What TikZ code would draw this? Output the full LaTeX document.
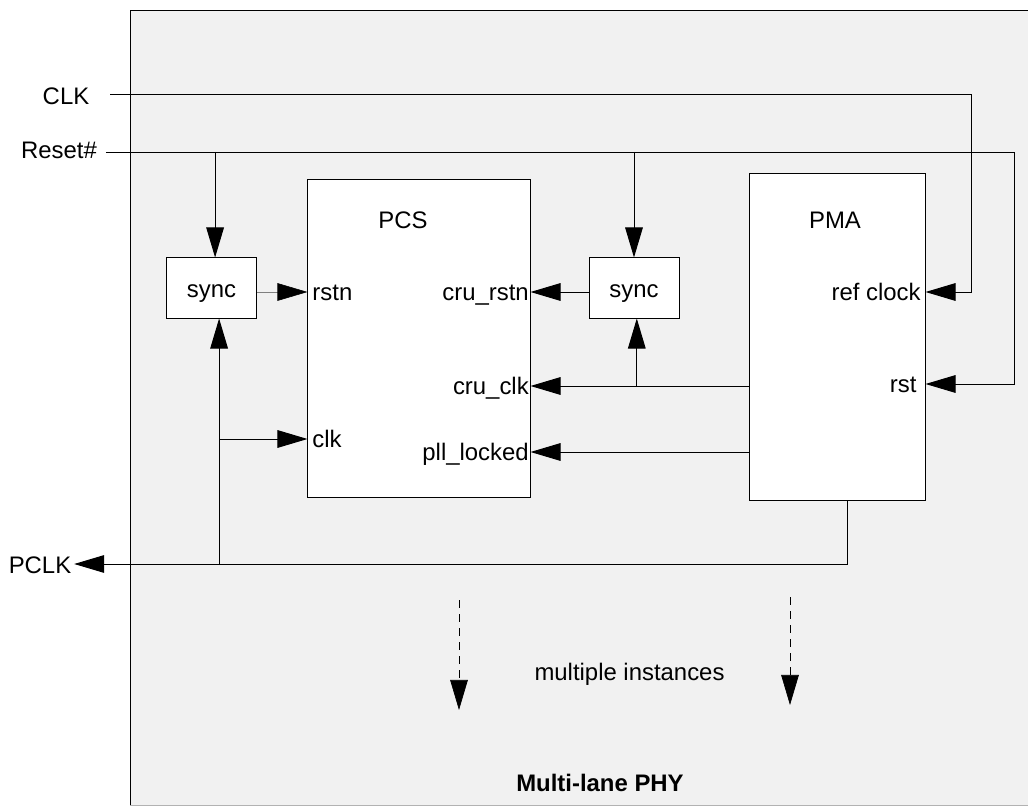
\documentclass[tikz,border=0pt]{standalone}
\usepackage{fontspec}
\setmainfont{Liberation Sans}
\usetikzlibrary{arrows.meta,positioning}

\definecolor{phygray}{HTML}{F1F1F1}

\newcommand*{\phyleft}{130}
\newcommand*{\phytop}{10}
\newcommand*{\phyright}{1028}
\newcommand*{\phybottom}{805}

\begin{document}
\begin{tikzpicture}
[
	x=0.025cm, y=-0.025cm,
	font=\fontsize{17}{20}\selectfont,
	block/.style={draw,fill=white,line width=0.7pt,inner sep=0pt},
	syncbox/.style={block,minimum width=2.25cm,minimum height=1.5cm,text height=0.45cm,text depth=0pt},
	portw/.style={anchor=base west,yshift=-0.22cm},
	porte/.style={anchor=base east,yshift=-0.22cm},
	sig/.style={line width=0.7pt},
	thinsig/.style={line width=0.4pt,gray},
	tip/.style={-{Triangle[length=0.75cm,width=0.44cm,color=black]}},
	dashtip/.style={-{Triangle[length=0.75cm,width=0.44cm]},dash pattern=on 0.2cm off 0.15cm,line width=0.5pt}
]

	\useasboundingbox (0,0) rectangle (1028,807);

	% phy background
	\fill[phygray] (\phyleft,\phytop) rectangle (\phyright,\phybottom);
	\draw[sig] (\phyright,\phytop) -- (\phyleft,\phytop) -- (\phyleft,\phybottom);
	\draw[gray!60,line width=0.4pt] (\phyleft,\phybottom) -- (\phyright,\phybottom);

	% blocks
	\node[block,minimum width=5.55cm,minimum height=7.95cm] (pcs) at (419,338.5) {};
	\node[block,minimum width=4.375cm,minimum height=8.15cm] (pma) at (837.5,337) {};
	\node[syncbox] (syncl) at (211.5,288) {sync};
	\node[syncbox] (syncr) at (634,288) {sync};

	\node[anchor=base] at (403,229) (pcsname) {PCS};
	\node[anchor=base] at (835,229) (pmaname) {PMA};

	% ports
	\coordinate (rstnport) at (pcs.west |- 0,292);
	\coordinate (clkportpt) at (pcs.west |- 0,439);
	\coordinate (crurstnport) at (pcs.east |- 0,292);
	\coordinate (cruclkport) at (pcs.east |- 0,386);
	\coordinate (pllport) at (pcs.east |- 0,452);
	\coordinate (refport) at (pma.east |- 0,292);
	\coordinate (rstport) at (pma.east |- 0,384);

	\node[portw] at (rstnport) (rstn) {rstn};
	\node[portw] at (clkportpt) (clkport) {clk};
	\node[porte,xshift=0.08cm] at (crurstnport) (crurstn) {cru\_rstn};
	\node[porte,xshift=0.08cm] at (cruclkport) (cruclk) {cru\_clk};
	\node[porte,xshift=0.08cm] at (pllport) (plllocked) {pll\_locked};
	\node[porte] at (refport) (refclk) {ref clock};
	\node[porte,xshift=-0.1cm] at (rstport) (rst) {rst};

	% external signals
	\node[anchor=base] at (66,105) (clkin) {CLK};
	\node[anchor=base] at (59,159) (resetin) {Reset\#};
	\node[anchor=base] at (40,573) (pclkout) {PCLK};

	% clock and reset in
	\draw[sig,tip] ([xshift=0.4cm]clkin.east |- 0,94) -| (971,292) -- (refport);
	\draw[sig,tip] ([xshift=0.1cm]resetin.east |- 0,152) -| (1014,384) -- (rstport);
	\draw[sig,tip] ([xshift=0.09cm]syncl.north |- 0,152) -- ([xshift=0.09cm]syncl.north);
	\draw[sig,tip] (syncr.north |- 0,152) -- (syncr.north);

	% pcs inputs
	\draw[thinsig,tip] (syncl.east |- rstnport) -- (rstnport);
	\draw[sig,tip] (syncr.west |- crurstnport) -- (crurstnport);
	\draw[sig,tip] (pma.west |- cruclkport) -- (cruclkport);
	\draw[sig,tip] ([xshift=0.07cm]syncr.south |- cruclkport) -- ([xshift=0.07cm]syncr.south);
	\draw[sig,tip] (pma.west |- pllport) -- (pllport);
	\draw[sig,tip] ([xshift=0.19cm]syncl.south |- clkportpt) -- (clkportpt);

	% pclk out
	\draw[sig,tip] ([xshift=0.24cm]pma.south) |- ([xshift=-0.05cm]pclkout.east |- 0,564);
	\draw[sig,tip] ([xshift=0.19cm]syncl.south |- 0,564) -- ([xshift=0.19cm]syncl.south);

	% instances
	\draw[dashtip] (459,600) -- (459,710);
	\draw[dashtip] (790,597) -- (790,705);
	\node[anchor=base] at (629.5,680) (instances) {multiple instances};
	\node[anchor=base,font=\fontsize{17}{20}\selectfont\bfseries] at (600,791) (phyname) {Multi-lane PHY};

\end{tikzpicture}
\end{document}
